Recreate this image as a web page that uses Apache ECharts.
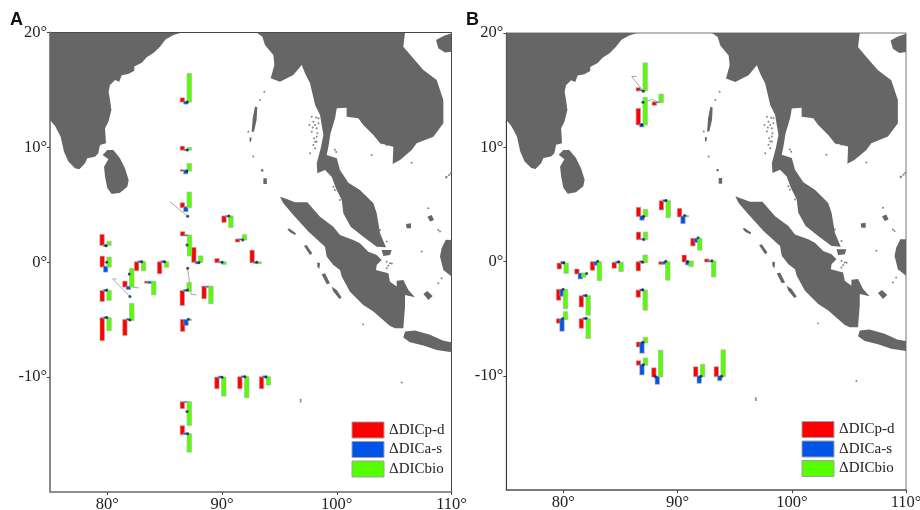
<html>
  <head>
    <meta charset="utf-8" />
    <script src="https://cdn.jsdelivr.net/npm/echarts@6/dist/echarts.min.js"></script>
  </head>
  <body>
    <style>
      html,
      body,
      #main {
        width: 100%;
        height: 100%;
        margin: 0;
        background: #fff;
      }
    </style>
    <div id="main"></div>
    <script>
      // axis ticks
      const lonTicks = [80, 90, 100, 110];
      const latTicks = [20, 10, 0, -10];
      const seriesNames = ["ΔDICp-d", "ΔDICa-s", "ΔDICbio"];

      // panel A stations: where the bars stand, and the three values
      const barLonA = [79.84, 79.85, 79.85, 79.85, 81.83, 81.83, 82.85, 84.85, 83.74, 86.86, 87.84, 86.83, 86.86, 88.73, 89.85, 91.85, 93.74, 86.84, 86.84, 86.84, 86.84, 86.84, 86.84, 90.47, 91.65, 92.92, 89.86];
      const barLatA = [1.51, -0.38, -2.5, -4.87, -5.02, -2.12, 0, 0, -1.69, 2.33, 0.03, -2.5, -5.02, -2.12, -10.04, -10.01, -10.01, -12.18, -14.97, 13.98, 9.8, 7.97, 4.79, 3.99, 1.98, 0, 0];
      const pdA = [10, 10, -10, -22, -15, 5, -8, -11, -1, 3.3, 14, -14, -11, -11.7, -10.7, -11, -11, -6, 8, 3.3, 3, 0.5, 4, -5.5, -2, 11.6, 3.3];
      const asA = [-1, -5, 1, 1, 1, -2.5, 1, 1, -1.5, 0.3, -1.5, 1, -5, -0.5, 1, 1, 1, 0.3, 1, -2, -0.5, -2.7, -4, 0.5, 0.3, -0.5, 0.3];
      const bioA = [3, 9, -9, -12, 16, 17.7, -8, -4.5, -12.7, -20, 5.5, 8, 0.5, -16.6, -18, -20, -7.3, -22.7, -17.4, 27.7, 1.7, 6.7, 14.7, -10.5, 4.3, -1, -1.7];
      const dotLonA = [79.88, 79.94, 79.94, 79.94, 81.97, 81.91, 81.97, 83.0, 84.99, 86.94, 87.99, 87.0, 86.98, 87.06, 90, 92, 93.83, 86.94, 87, 86.97, 86.97, 86.92, 87, 90.6, 91.8, 93.02, 90];
      const dotLatA = [1.44, 0, -2.41, -4.82, -5.02, -1.02, -2.99, 0.05, 0.05, 1.51, -0.03, -0.52, -2.41, -4.96, -10.01, -9.96, -9.98, -13, -14.94, 13.95, 9.77, 7.97, 4, 4.03, 1.94, 0, 0];
      const leadersA = [
        [[81.91, -1.02], [82.26, -2.18], [82.76, -2.24]],
        [[81.97, -2.99], [80.47, -1.45], [80.8, -1.45]],
        [[87, -0.52], [87.29, -2.78], [87.79, -2.85]],
        [[87, 4], [85.46, 5.27]],
      ];

      // panel B stations
      const barLonB = [79.94, 81.48, 82.85, 84.75, 86.86, 88.84, 79.88, 81.87, 86.86, 79.88, 81.87, 86.88, 86.88, 88.22, 86.86, 86.86, 88.26, 86.88, 88.88, 90.47, 86.88, 91.64, 90.88, 92.86, 91.89, 93.69];
      const barLatB = [-0.18, -1.05, -0.06, -0.11, -0.06, -0.06, -2.48, -3.04, -2.54, -5.05, -5.05, -7.09, -9.04, -10.07, 14.97, 11.99, 13.94, 3.97, 5.28, 3.94, 1.95, 1.99, 0, 0, -10.04, -10.04];
      const pdB = [-5, 4, -7.7, -5, -8.3, -1.7, -10, -10.3, -6.3, -3.6, -8.6, -4, 3.6, 8.3, 2.3, 15.7, -2.6, 8.4, -8.3, 7.7, 6.7, -6.7, 6, 2, 9, 9];
      const asB = [1.5, -5, -2.7, 1, 1, -1.7, -6, 1, 1, -11.6, 1, -10.3, -9.7, -7.3, 0.3, -2, 0.3, -3.6, 1, -6.7, 0.3, -3.3, -3, 0.5, -6.6, -4];
      const bioB = [-9.3, -3.3, -18, -8.4, 6.7, -17.6, -18.4, -18.6, -19.3, 7, -19, 4.7, 6.3, 26, 27.3, 26.7, 7.7, 6.4, -16, 0.5, 6.7, -11, -4.7, -15, 11.4, 26];
      const dotLonB = [80.03, 82.04, 83, 84.84, 86.94, 88.96, 79.97, 81.98, 86.94, 79.94, 81.98, 86.97, 87, 88.05, 87, 86.97, 87.03, 88.98, 90.62, 87.03, 91.79, 90.88, 93.01, 92.05, 93.86, 86.86];
      const dotLatB = [-0.11, -1.05, 0.03, -0.03, -0.06, 0.03, -2.42, -2.98, -2.48, -4.99, -4.96, -7.06, -9.04, -10.07, 14.91, 13.94, 3.94, 5.34, 4.03, 1.93, 2.07, 0, 0.06, -10.04, -10.04, 11.99];
      const leadersB = [
        [[87, 14.91], [85.98, 16.19], [86.42, 16.19]],
        [[86.97, 13.94], [87.82, 14.18], [88.26, 13.94]],
      ];

      // coastlines, lon/lat
      const india = [[75, 20], [86.48, 20], [85.76, 19.78], [85.09, 19.41], [84.59, 18.77], [84.07, 18.25], [83.43, 17.84], [83.0, 17.37], [82.35, 17.03], [82.35, 16.68], [81.83, 16.39], [81.25, 16.27], [81.04, 15.72], [80.67, 15.87], [80.23, 15.43], [80.11, 14.85], [80.23, 14.13], [80.35, 13.26], [80.09, 12.24], [79.8, 11.66], [79.88, 10.35], [79.36, 10.21], [79.21, 9.48], [78.92, 9.19], [78.25, 9.05], [78.05, 8.61], [77.56, 8.09], [77.18, 8.18], [76.6, 8.76], [76.22, 9.63], [75.93, 10.93], [75.44, 11.86], [75, 12.38]];
      const sriLanka = [[80.0, 9.77], [80.52, 9.77], [81.1, 9.05], [81.54, 8.17], [81.86, 7.16], [81.74, 6.58], [81.1, 6.06], [80.38, 5.94], [80.0, 6.44], [79.8, 7.45], [79.71, 8.32], [80.09, 8.96], [79.59, 9.34]];
      const indochina = [[93.01, 20], [93.51, 19.64], [93.74, 18.91], [94.47, 18.04], [94.56, 17.17], [94.24, 16.01], [95.05, 15.72], [96.21, 16.3], [96.94, 17.17], [97.23, 16.45], [97.67, 15.58], [98.11, 13.69], [98.54, 12.82], [98.83, 11.08], [98.6, 9.92], [98.25, 8.61], [98.31, 7.74], [98.97, 8.03], [99.55, 7.45], [99.93, 6.43], [100.43, 5.42], [100.57, 4.26], [101.21, 3.1], [102.31, 2.23], [103.48, 1.36], [104.29, 1.3], [103.77, 2.52], [103.48, 4.26], [103.19, 5.13], [102.02, 6.29], [101.01, 6.93], [100.28, 8.03], [100, 9.05], [99.12, 9.34], [99.27, 10.06], [99.45, 11.2], [99.85, 12.53], [100, 13.4], [100.86, 13.46], [100.86, 12.67], [101.88, 12.53], [102.31, 11.95], [103.19, 11.08], [103.77, 10.35], [104.93, 10.06], [104.87, 8.56], [105.51, 8.91], [106.53, 9.77], [106.96, 10.35], [108.42, 10.93], [109.29, 12.09], [109.29, 14.13], [108.71, 15.87], [107.55, 16.74], [106.53, 17.9], [105.8, 18.77], [105.95, 20]];
      const hainan = [[108.65, 19.35], [109.29, 19.7], [110, 19.93], [110, 18.33], [109.43, 18.25], [108.85, 18.62]];
      const sumatra = [[95.05, 5.71], [95.63, 5.5], [96.36, 5.22], [97.43, 5.22], [98.54, 3.97], [99.7, 3.1], [100.28, 2.37], [101.44, 1.94], [102.02, 1.65], [102.75, 0.92], [103.48, 0.63], [103.91, 0.2], [103.48, -0.24], [103.42, -0.67], [104.49, -0.96], [104.64, -1.69], [105.22, -2.12], [105.22, -1.6], [105.8, -1.54], [106.24, -2.41], [106.82, -3.05], [105.95, -2.85], [105.95, -3.86], [105.8, -5.75], [105.08, -5.75], [104.64, -5.55], [103.19, -4.29], [102.31, -3.72], [101.15, -2.56], [100.43, -1.25], [100.28, -0.67], [99.7, -0.23], [99.12, 0.5], [98.97, 1.36], [97.52, 2.67], [96.21, 4.12], [95.34, 5.13]];
      const java = [[105.95, -6.03], [106.82, -5.95], [108.13, -6.32], [109.29, -6.84], [110, -6.96], [110, -7.83], [108.71, -7.63], [107.55, -7.25], [106.38, -6.96], [105.8, -6.55]];
      const borneo = [[110, 1.94], [109.5, 1.95], [109.14, 1.21], [109, 0.49], [109.29, -0.67], [110, -1.25]];
      const islands = [
        [[107.55, -2.76], [107.89, -2.5], [108.36, -2.93], [107.98, -3.28]],
        [[98.68, -1.04], [98.97, -0.96], [99.41, -1.83], [99.12, -1.91]],
        [[99.55, -2.12], [99.99, -2.41], [100.43, -3.07], [100.22, -3.19], [99.7, -2.55]],
        [[102.17, -5.31], [102.4, -5.4], [102.31, -5.51]],
        [[98.3, 0], [98.54, -0.09], [98.48, -0.58], [98.3, -0.38]],
        [[95.69, 2.87], [95.86, 2.93], [96.44, 2.53], [96.36, 2.38], [95.92, 2.61]],
        [[97.14, 1.42], [97.37, 1.5], [97.87, 0.78], [97.66, 0.64]],
        [[92.87, 13.55], [93.07, 13.49], [93.01, 12.38], [92.78, 11.37], [92.58, 11.37], [92.67, 12.53]],
        [[92.4, 10.87], [92.58, 10.87], [92.52, 10.5], [92.4, 10.5]],
        [[93.6, 7.31], [93.9, 7.31], [93.9, 6.81], [93.6, 6.81]],
        [[93.4, 8.09], [93.6, 8.09], [93.6, 7.9], [93.4, 7.9]],
        [[107.9, 3.97], [108.27, 4.12], [108.48, 3.68], [108.13, 3.54]],
        [[103.91, 1.07], [104.78, 1.07], [104.64, 0.63], [104.06, 0.55]],
        [[106.03, 3.33], [106.47, 3.39], [106.47, 2.95], [106.09, 2.95]],
      ];
      // islets too small to outline
      const specks = [[97.61, 11.95], [97.82, 12.67], [97.96, 12.24], [98.11, 11.95], [98.25, 11.66], [98.4, 12.09], [97.82, 11.37], [98.02, 10.79], [98.25, 10.93], [97.96, 10.21], [98.11, 9.92], [97.67, 9.48], [98.25, 10.5], [97.9, 11.72], [98.4, 12.53], [98.19, 12.59], [98.31, 11.22], [98.11, 10.5], [99.84, 9.8], [99.95, 9.6], [104.35, 0.05], [104.64, -0.09], [104.8, -0.1], [104.35, -0.53], [104.5, -0.3], [99.7, 6.58], [99.84, 6.29], [100.28, 5.42], [93.68, 14.85], [93.3, 14.13], [92.29, 11.37], [92.72, 9.2], [103.48, 10.94], [103.19, 11.23], [103.91, 10.36], [104.35, 10.21], [102.9, 11.66], [102.46, 12.09], [106.53, 8.67], [103.04, 9.34], [107.98, 4.7], [108.85, 2.81], [109, 2.67], [109.58, 7.45], [109.78, 7.6], [109.93, 7.74], [109.52, 7.37], [103.77, 2.81], [104.35, 1.8], [107.4, 0.93], [105.66, -10.47], [96.85, -11.98], [96.85, -12.12], [109.14, -1.39], [108.85, -1.83]];

      const landShapes = [india, sriLanka, indochina, hainan, sumatra, java, borneo].concat(islands);

      const barColors = ["#ff0000", "#0055e6", "#55ff00"];
      const barWidthDeg = 0.3; // one column, in degrees of longitude
      const degPerUnit = 0.087; // bar length in degrees of latitude per unit

      function renderLand(params, api) {
        const pts = landShapes[api.value(0)].map((p) => api.coord(p));
        return {
          type: "polygon",
          shape: { points: pts },
          style: { fill: "#666666" },
        };
      }

      function barRenderer(column) {
        return function (params, api) {
          const base = api.coord([api.value(0), api.value(1)]);
          const v = api.value(2);
          const w = api.size([barWidthDeg, 0])[0];
          const h = api.size([0, Math.abs(v) * degPerUnit])[1];
          // the outline sits just outside the coloured part
          return {
            type: "rect",
            shape: {
              x: base[0] + column * w - w / 2 - 0.5,
              y: (v >= 0 ? base[1] - h : base[1]) - 0.5,
              width: w + 1,
              height: h + 1,
            },
            style: {
              fill: api.visual("color"),
              stroke: "rgba(170,170,170,0.6)",
              lineWidth: 1,
            },
          };
        };
      }

      function renderLeader(leaders) {
        return function (params, api) {
          return {
            type: "polyline",
            shape: { points: leaders[api.value(0)].map((p) => api.coord(p)) },
            style: { fill: null, stroke: "#a8a8a8", lineWidth: 1 },
          };
        };
      }

      function panelSeries(idx, barLon, barLat, values, dotLon, dotLat, leaders) {
        const out = [
          {
            type: "custom",
            xAxisIndex: idx,
            yAxisIndex: idx,
            clip: true,
            silent: true,
            z: 1,
            renderItem: renderLand,
            data: landShapes.map((s, i) => [i]),
            encode: { x: [], y: [] },
          },
          {
            type: "scatter",
            xAxisIndex: idx,
            yAxisIndex: idx,
            silent: true,
            z: 1,
            symbolSize: 2,
            itemStyle: { color: "#666666" },
            data: specks,
          },
          {
            type: "custom",
            xAxisIndex: idx,
            yAxisIndex: idx,
            silent: true,
            z: 2,
            renderItem: renderLeader(leaders),
            data: leaders.map((l, i) => [i]),
            encode: { x: [], y: [] },
          },
        ];
        values.forEach((vals, k) => {
          out.push({
            name: seriesNames[k],
            type: "custom",
            xAxisIndex: idx,
            yAxisIndex: idx,
            z: 3,
            itemStyle: { color: barColors[k] },
            renderItem: barRenderer(k - 1),
            data: vals.map((v, i) => [barLon[i], barLat[i], v]),
            encode: { x: 0, y: 1 },
          });
        });
        out.push({
          type: "scatter",
          xAxisIndex: idx,
          yAxisIndex: idx,
          silent: true,
          z: 4,
          symbolSize: 3,
          itemStyle: { color: "#14204f" },
          data: dotLon.map((lon, i) => [lon, dotLat[i]]),
        });
        return out;
      }

      const serif = "Liberation Serif";

      function lonAxis(idx, color, width) {
        return {
          type: "value",
          gridIndex: idx,
          min: 75,
          max: 110,
          splitLine: { show: false },
          axisLine: { onZero: false, lineStyle: { color: color, width: width } },
          axisTick: { customValues: lonTicks, length: 3, lineStyle: { color: "#444" } },
          axisLabel: {
            customValues: lonTicks,
            margin: 4,
            color: "#222",
            fontFamily: serif,
            fontSize: 16.5,
            formatter: "{value}°",
          },
        };
      }

      function latAxis(idx, color, width) {
        return {
          type: "value",
          gridIndex: idx,
          min: -20,
          max: 20,
          splitLine: { show: false },
          axisLine: { onZero: false, lineStyle: { color: color, width: width } },
          axisTick: { customValues: latTicks, length: 3, lineStyle: { color: "#444" } },
          axisLabel: {
            customValues: latTicks,
            margin: 3,
            color: "#222",
            fontFamily: serif,
            fontSize: 16.5,
            formatter: "{value}°",
          },
        };
      }

      function legendAt(left, top) {
        return {
          left: left,
          top: top,
          padding: 0,
          orient: "vertical",
          icon: "rect",
          itemWidth: 32,
          itemHeight: 16,
          itemGap: 2.5,
          selectedMode: false,
          data: seriesNames,
          itemStyle: { borderColor: "#a0a0a0", borderWidth: 1 },
          textStyle: { fontFamily: serif, fontSize: 15, color: "#222" },
        };
      }

      const letterStyle = { fontFamily: "Liberation Sans", fontSize: 18, fontWeight: "bold", color: "#111" };
      const chart = echarts.init(document.getElementById("main"));

      chart.setOption({
        animation: false,
        title: [
          { text: "A", left: 10, top: 11, padding: 0, textStyle: letterStyle },
          { text: "B", left: 466, top: 11, padding: 0, textStyle: letterStyle },
        ],
        grid: [
          { left: 50, top: 32.5, width: 401.5, height: 459.5, outerBoundsMode: "none", show: true, borderColor: "#444", borderWidth: 1 },
          { left: 506.3, top: 33, width: 399.7, height: 457, outerBoundsMode: "none", show: true, borderColor: "#777", borderWidth: 1 },
        ],
        xAxis: [lonAxis(0, "#888", 1.5), lonAxis(1, "#666", 1.5)],
        yAxis: [latAxis(0, "#888", 2), latAxis(1, "#333", 1)],
        legend: [legendAt(351.5, 421.5), legendAt(801.5, 421)],
        series: panelSeries(0, barLonA, barLatA, [pdA, asA, bioA], dotLonA, dotLatA, leadersA).concat(
          panelSeries(1, barLonB, barLatB, [pdB, asB, bioB], dotLonB, dotLatB, leadersB)
        ),
      });

      window.onresize = chart.resize;
    </script>
  </body>
</html>
